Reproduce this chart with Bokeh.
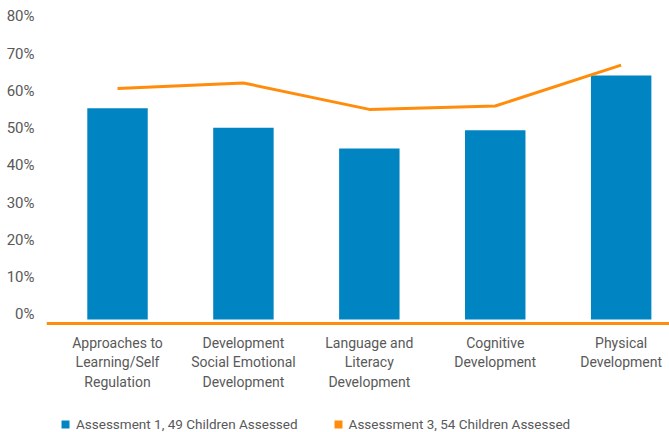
from bokeh.plotting import figure
from bokeh.models import (Range1d, LinearAxis, FixedTicker, Legend, LegendItem,
                          ColumnDataSource, PrintfTickFormatter)
from bokeh.embed import file_html
from bokeh.resources import INLINE

# ---- data ----
categories = [
    "Approaches to\nLearning/Self\nRegulation",
    "Development\nSocial Emotional\nDevelopment",
    "Language and\nLiteracy\nDevelopment",
    "Cognitive\nDevelopment",
    "Physical\nDevelopment",
]
assessment1 = [56.7, 51.5, 45.9, 50.8, 65.5]
assessment3 = [62.0, 63.5, 56.4, 57.3, 68.3]
y_ticks = [0, 10, 20, 30, 40, 50, 60, 70, 80]
series_names = ["Assessment 1, 49 Children Assessed",
                "Assessment 3, 54 Children Assessed"]

BLUE = "#0084C2"
ORANGE = "#FF8C0A"
TEXT = "#595959"
FONT = "Roboto"

idx = list(range(len(categories)))
src = ColumnDataSource(dict(x=idx, a1=assessment1, a3=assessment3))

y_lo, y_hi = -30.34, 82.95
shift = 1.34

p = figure(width=669, height=432, output_backend="svg", toolbar_location=None,
           x_range=Range1d(-0.564, 4.384), y_range=Range1d(y_lo, y_hi),
           x_axis_location=None, y_axis_location=None,
           min_border_top=10, min_border_right=0, min_border_left=46, min_border_bottom=0)
p.outline_line_color = None
p.xgrid.visible = False
p.ygrid.visible = False
p.extra_y_ranges = {"lab": Range1d(y_lo - shift, y_hi - shift)}

bars = p.vbar(x="x", top="a1", width=0.48, source=src, fill_color=BLUE, line_color=None)
hidden = p.vbar(x="x", top="a3", width=0.48, source=src, fill_color=ORANGE,
                line_color=None, visible=False)
p.line(x="x", y="a3", source=src, line_color=ORANGE, line_width=3)

yax = LinearAxis(y_range_name="lab", ticker=FixedTicker(ticks=y_ticks),
                 formatter=PrintfTickFormatter(format="%d%%"),
                 bounds=(0, 80))
yax.axis_line_color = None
yax.major_tick_line_color = None
yax.minor_tick_line_color = None
yax.major_label_text_font = FONT
yax.major_label_text_font_size = "15px"
yax.major_label_text_color = TEXT
yax.major_label_standoff = 6
p.add_layout(yax, "left")

xax = LinearAxis(ticker=FixedTicker(ticks=idx), fixed_location=-1.13,
                 major_label_overrides={i: c for i, c in zip(idx, categories)})
xax.axis_line_color = ORANGE
xax.axis_line_width = 3
xax.major_tick_line_color = None
xax.minor_tick_line_color = None
xax.major_label_text_font = FONT
xax.major_label_text_font_size = "14px"
xax.major_label_text_color = TEXT
xax.major_label_text_line_height = 1.22
xax.major_label_standoff = 5
p.add_layout(xax, "below")

legend = Legend(items=[LegendItem(label=series_names[0], renderers=[bars]),
                       LegendItem(label=series_names[1], renderers=[hidden])],
                orientation="horizontal", location=(14, 0),
                glyph_width=10, glyph_height=10, label_standoff=6, spacing=35,
                padding=0, margin=0, border_line_color=None,
                background_fill_alpha=0, label_text_font=FONT,
                label_text_font_size="13.5px", label_text_color=TEXT,
                label_height=14)
p.add_layout(legend)

open("out.html", "w").write(file_html(p, INLINE))
